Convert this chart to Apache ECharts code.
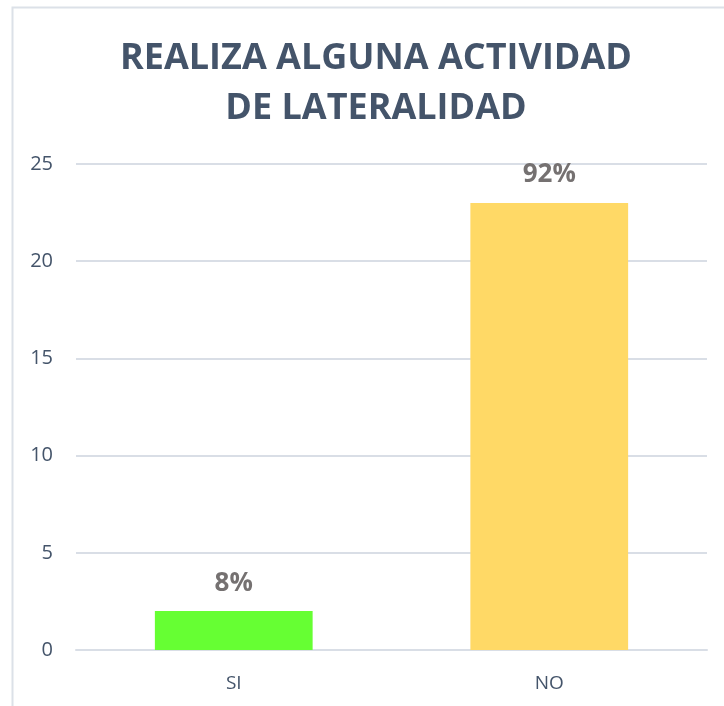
<!DOCTYPE html>
<html><head><meta charset="utf-8">
<script src="https://cdn.jsdelivr.net/npm/echarts@6/dist/echarts.min.js"></script>
<style>html,body{margin:0;padding:0;background:#fff}#c{width:724px;height:706px}</style>
</head><body><div id="c"></div>
<script>
const categories = ['SI', 'NO'];
const values = [2, 23];
const pctLabels = ['8%', '92%'];
const barColors = ['#66FF33', '#FFD966'];
const titleText = 'REALIZA ALGUNA ACTIVIDAD\nDE LATERALIDAD';

const chart = echarts.init(document.getElementById('c'), null, {renderer: 'canvas'});
chart.setOption({
  animation: false,
  backgroundColor: '#fff',
  graphic: [{
    type: 'rect', shape: {x: 12.5, y: 7.5, width: 730, height: 720},
    style: {fill: 'none', stroke: '#DCE1E8', lineWidth: 2}, silent: true
  }],
  title: {
    text: titleText, left: 371, textAlign: 'center', top: 29,
    textStyle: {fontFamily: 'Open Sans', fontWeight: 'bold', fontSize: 36, color: '#44546A', lineHeight: 50}
  },
  grid: {left: 76, right: 17, top: 164, bottom: 56, containLabel: false},
  xAxis: {
    type: 'category', data: categories,
    axisLine: {show: true, lineStyle: {color: '#D9DEE6', width: 2}},
    axisTick: {show: false},
    axisLabel: {fontFamily: 'Open Sans', fontSize: 19, color: '#44546A', margin: 24}
  },
  yAxis: {
    type: 'value', min: 0, max: 25, interval: 5,
    axisLine: {show: false}, axisTick: {show: false},
    splitLine: {lineStyle: {color: '#D9DEE6', width: 2}},
    axisLabel: {fontFamily: 'Open Sans', fontSize: 20, color: '#44546A', margin: 23}
  },
  series: [{
    type: 'bar', barWidth: '50%',
    data: values.map((v, i) => ({value: v, itemStyle: {color: barColors[i]}})),
    label: {
      show: true, position: 'top', distance: 15,
      formatter: p => pctLabels[p.dataIndex],
      fontFamily: 'Open Sans', fontWeight: 'bold', fontSize: 26, color: '#757171'
    }
  }]
});
</script></body></html>
